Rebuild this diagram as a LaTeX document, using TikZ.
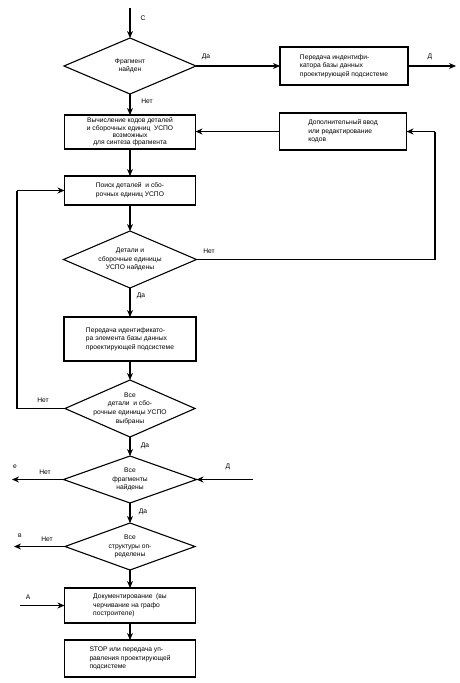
\documentclass[tikz,border=0pt]{standalone}
\usepackage{fontspec}
\setmainfont{Liberation Sans}
\usetikzlibrary{shapes.geometric,arrows.meta}
\begin{document}
\begin{tikzpicture}[x=1pt,y=-1pt,
  every node/.style={font=\fontsize{6.7}{8.6}\selectfont},
  box/.style={draw,line width=1.1pt,inner sep=0pt,outer sep=0pt},
  dia/.style={draw,diamond,line width=1.1pt,inner sep=0pt,outer sep=0pt},
  txt/.style={align=center,inner sep=0pt},
  ltxt/.style={align=left,inner sep=0pt},
  lbl/.style={inner sep=0pt},
  con/.style={line width=1.1pt,-{Stealth[length=7pt,width=6pt]}},
  ln/.style={line width=1.1pt}]
\useasboundingbox (0,0) rectangle (460,683);

% top entry
\coordinate (cin) at (130,8);
\node[dia,minimum width=132pt,minimum height=56pt] (d1) at (130,66) {};
\node[txt] at (d1) {Фрагмент\\найден};
\draw[con] (cin) -- (d1.north);
\node[lbl] at (143,18) {С};

% right box
\node[box,minimum width=128pt,minimum height=38pt] (b2) at (344,66) {};
\node[ltxt] at (b2) {Передача индентифи-\\катора базы данных\\проектирующей подсистеме};
\draw[con] (d1.east) -- (b2.west);
\node[lbl] at (206,57) {Да};
\coordinate (dout) at (456,66);
\draw[con] (b2.east) -- (dout);
\node[lbl] at (430,57) {Д};

% box 3
\node[box,minimum width=131pt,minimum height=34pt] (b3) at (130,132) {};
\node[txt,font=\fontsize{6.7}{7.2}\selectfont] at (b3) {Вычисление кодов деталей\\и сборочных единиц \ УСПО\\возможных\\для синтеза фрагмента};
\draw[con] (d1.south) -- (b3.north);
\node[lbl] at (147,101) {Нет};

% box 4
\node[box,minimum width=127pt,minimum height=37pt] (b4) at (343,131.5) {};
\node[ltxt] at (b4) {Дополнительный ввод\\или редактирование\\кодов};
\draw[con] (b4.west) -- (b3.east |- b4.west);

% box 5
\node[box,minimum width=131pt,minimum height=29pt] (b5) at (130,190.5) {};
\node[txt] at (b5) {Поиск деталей \ и сбо-\\рочных единиц УСПО};
\draw[con] (b3.south) -- (b5.north);

% diamond 2
\node[dia,minimum width=133pt,minimum height=57pt] (d2) at (130,259.5) {};
\node[txt] at (d2) {Детали и\\сборочные единицы\\УСПО найдены};
\draw[con] (b5.south) -- (d2.north);
\coordinate (r1) at (435,259.5);
\coordinate (r2) at (435,131.5);
\draw[ln] (d2.east) -- (r1) -- (r2);
\draw[con] (r2) -- (b4.east);
\node[lbl] at (209,251) {Нет};

% box 6
\node[box,minimum width=132pt,minimum height=44pt] (b6) at (130,339) {};
\node[ltxt] at (b6) {Передача идентификато-\\ра элемента базы данных\\проектирующей подсистеме};
\draw[con] (d2.south) -- (b6.north);
\node[lbl] at (141,296) {Да};

% diamond 3
\node[dia,minimum width=130pt,minimum height=57pt] (d3) at (130,408.5) {};
\node[txt] at (d3) {Все\\детали \ и сбо-\\рочные единицы УСПО\\выбраны};
\draw[con] (b6.south) -- (d3.north);
\coordinate (l1) at (17,408.5);
\coordinate (l2) at (17,190.5);
\draw[ln] (d3.west) -- (l1) -- (l2);
\draw[con] (l2) -- (b5.west);
\node[lbl] at (43,400) {Нет};

% diamond 4
\node[dia,minimum width=133pt,minimum height=47pt] (d4) at (130,479.5) {};
\node[txt] at (d4) {Все\\фрагменты\\найдены};
\draw[con] (d3.south) -- (d4.north);
\node[lbl] at (145,446) {Да};
\coordinate (eout) at (12,479.5);
\draw[con] (d4.west) -- (eout);
\node[lbl] at (45,472) {Нет};
\node[lbl] at (15,467) {е};
\coordinate (din) at (253,479.5);
\draw[con] (din) -- (d4.east);
\node[lbl] at (228,467) {Д};

% diamond 5
\node[dia,minimum width=130pt,minimum height=47pt] (d5) at (130,546.5) {};
\node[txt] at (d5) {Все\\структуры оп-\\ределены};
\draw[con] (d4.south) -- (d5.north);
\node[lbl] at (143,512) {Да};
\coordinate (vout) at (14,546.5);
\draw[con] (d5.west) -- (vout);
\node[lbl] at (47,539) {Нет};
\node[lbl] at (20,536) {в};

% box 7
\node[box,minimum width=131pt,minimum height=35pt] (b7) at (130,605.5) {};
\node[ltxt] at (b7) {Документирование \ (вы\\черчивание на графо\\построителе)};
\draw[con] (d5.south) -- (b7.north);
\coordinate (ain) at (20,605.5);
\draw[con] (ain) -- (b7.west);
\node[lbl] at (28,597) {А};

% box 8
\node[box,minimum width=131pt,minimum height=37pt] (b8) at (130,658.5) {};
\node[ltxt] at (b8) {STOP или передача уп-\\равления проектирующей\\подсистеме};
\draw[con] (b7.south) -- (b8.north);
\end{tikzpicture}
\end{document}
